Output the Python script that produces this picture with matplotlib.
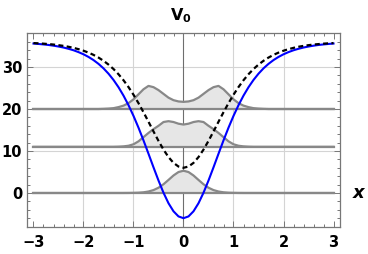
import matplotlib.pyplot as plt
import numpy as np

plt.rcParams['font.family'] = ['DejaVu Sans']
plt.rcParams['mathtext.fontset'] = 'dejavusans'

# x grid, -3 .. 3 step 0.1
x = np.round(np.linspace(-3, 3, 61), 2)

# potential (blue), values read for x = 0.0 .. 3.0, mirrored for x < 0
v_half = [-6.00, -5.58, -4.36, -2.44, 0.06, 2.97, 6.11, 9.34, 12.52, 15.55,
          18.36, 20.91, 23.19, 25.19, 26.92, 28.41, 29.68, 30.75, 31.65, 32.40,
          33.03, 33.55, 33.99, 34.34, 34.64, 34.88, 35.08, 35.25, 35.38, 35.49,
          35.59]
# partner potential (dashed)
w_half = [6.00, 6.30, 7.17, 8.55, 10.33, 12.41, 14.65, 16.96, 19.23, 21.39,
          23.40, 25.22, 26.85, 28.28, 29.52, 30.58, 31.48, 32.25, 32.89, 33.43,
          33.88, 34.25, 34.56, 34.82, 35.03, 35.20, 35.35, 35.46, 35.56, 35.64,
          35.70]

# levels and densities above each level (x = 0.0 .. 3.0)
levels = [0, 11, 20]
dens0_half = [5.3, 4.99, 4.17, 3.11, 2.08, 1.25, 0.69, 0.35, 0.16, 0.07,
              0.03, 0.01] + [0.0] * 19
dens1_half = [5.3, 5.5, 5.9, 6.1, 5.9, 5.0, 4.2, 3.3, 2.3, 1.3,
              0.6, 0.25, 0.1, 0.03] + [0.0] * 17
dens2_half = [1.7, 1.8, 2.1, 2.7, 3.6, 4.5, 5.2, 5.5, 4.7, 3.5,
              2.3, 1.4, 0.8, 0.45, 0.2, 0.1, 0.04] + [0.0] * 14


def full(half):
    half = np.array(half)
    return np.concatenate([half[:0:-1], half])


V = full(v_half)
W = full(w_half)
dens = [full(dens0_half), full(dens1_half), full(dens2_half)]

fig = plt.figure(figsize=(3.68, 2.54), dpi=100)
ax = fig.add_axes([27 / 368, 27 / 254, 313 / 368, 194 / 254])

frame_col = '#777777'
for xv in [-2, -1, 1, 2]:
    ax.axvline(xv, color='#d4d4d4', lw=0.8, zorder=0)
for yv in [10, 20, 30]:
    ax.axhline(yv, color='#d4d4d4', lw=0.8, zorder=0)
ax.axvline(0, color='#6e6e6e', lw=0.8, zorder=1)

for lev, d in zip(levels, dens):
    ax.fill_between(x, lev, lev + d, color='#e6e6e6', lw=0, zorder=2)
    ax.plot(x, lev + d, color='#888888', lw=1.6, zorder=3)
    ax.plot(x, np.full_like(x, lev, dtype=float), color='#888888', lw=1.6, zorder=3)

ax.plot(x, V, color='#0000ff', lw=1.5, zorder=4)
ax.plot(x, W, color='black', lw=1.6, dashes=(2.25, 1.5), zorder=5)

ax.set_xlim(-3.13, 3.13)
ax.set_ylim(-8.1, 38.1)
ax.set_xticks([-3, -2, -1, 0, 1, 2, 3])
ax.set_yticks([0, 10, 20, 30])
ax.set_xticks(np.arange(-3, 3.01, 0.2), minor=True)
ax.set_yticks(np.arange(-8, 38.1, 2), minor=True)
ax.tick_params(which='both', direction='in', top=True, right=True,
               color=frame_col, width=0.7)
ax.tick_params(which='major', length=4)
ax.tick_params(which='minor', length=2.2)
ax.tick_params(axis='x', pad=6)
ax.tick_params(axis='y', pad=3.5)
for lab in ax.get_xticklabels() + ax.get_yticklabels():
    lab.set_fontweight('bold')
    lab.set_fontsize(10.5)
for s in ax.spines.values():
    s.set_color(frame_col)
    s.set_linewidth(0.9)

fig.text(181 / 368, 1 - 16 / 254, r'$\mathbf{V}_\mathbf{0}$', ha='center',
         va='center', fontsize=11.5)
fig.text(359 / 368, 1 - 193 / 254, 'x', ha='center', va='center',
         fontsize=13, fontweight='bold', fontstyle='italic')

fig.savefig('out.png', dpi=100)
